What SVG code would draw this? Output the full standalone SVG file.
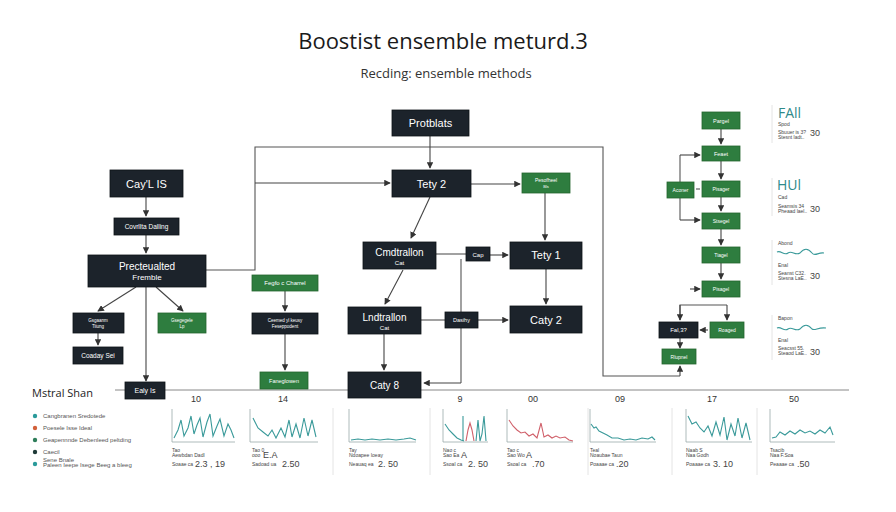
<svg xmlns="http://www.w3.org/2000/svg" width="896" height="512" viewBox="0 0 896 512">
<defs>
<marker id="ah" viewBox="0 0 8 8" refX="7" refY="4" markerWidth="6" markerHeight="6" orient="auto"><path d="M0,0 L8,4 L0,8 z" fill="#333"/></marker>
<style>
.dk{fill:#1c232b;stroke:#0e1317;stroke-width:0.8}
.gr{fill:#2e7d3f;stroke:#25652f;stroke-width:0.8}
.t{font-family:"Liberation Sans",Arial,sans-serif;fill:#fff;text-anchor:middle}
.ln{fill:none;stroke:#555;stroke-width:1.1}
.ar{fill:none;stroke:#444;stroke-width:1.1;marker-end:url(#ah)}
.ax{fill:none;stroke:#9aa;stroke-width:0.8}
.sep{stroke:#ddd;stroke-width:0.8}
.cs{fill:none;stroke:#3a9a9a;stroke-width:1.1}
.cr{fill:none;stroke:#d0606a;stroke-width:1.1}
.sm{font-family:"Liberation Sans",Arial,sans-serif;fill:#444;font-size:5px}
.nm{font-family:"Liberation Sans",Arial,sans-serif;fill:#444;font-size:9px}
.hd{font-family:"Liberation Sans",Arial,sans-serif;fill:#333;font-size:9px;text-anchor:middle}
.lg{font-family:"Liberation Sans",Arial,sans-serif;fill:#555;font-size:6px}
.pt{font-family:"Open Sans","Liberation Sans",sans-serif;fill:#2f8a8a}
</style>
</defs>
<rect width="896" height="512" fill="#ffffff"/>
<text x="443" y="49" font-family="Open Sans,Liberation Sans,sans-serif" font-size="22" fill="#1a1a1a" text-anchor="middle">Boostist ensemble meturd.3</text>
<text x="446" y="78" font-family="Open Sans,Liberation Sans,sans-serif" font-size="13" fill="#333" text-anchor="middle">Recding: ensemble methods</text>

<g id="timeline">
<line x1="115" y1="390" x2="849" y2="390" stroke="#888" stroke-width="1"/>
<text x="32" y="397" font-family="Open Sans,Liberation Sans,sans-serif" font-size="11" fill="#222">Mstral Shan</text>
<text class="hd" x="196" y="402">10</text>
<text class="hd" x="283" y="402">14</text>
<text class="hd" x="460" y="402">9</text>
<text class="hd" x="533" y="402">00</text>
<text class="hd" x="620" y="402">09</text>
<text class="hd" x="712" y="402">17</text>
<text class="hd" x="794" y="402">50</text>
<line x1="333" y1="408" x2="333" y2="475" class="sep"/>
<line x1="430" y1="408" x2="430" y2="475" class="sep"/>
<line x1="588" y1="408" x2="588" y2="475" class="sep"/>
<line x1="672" y1="408" x2="672" y2="475" class="sep"/>
<line x1="757" y1="408" x2="757" y2="475" class="sep"/>
</g>

<g id="connectors">
<path class="ar" d="M146,197 V216"/>
<path class="ar" d="M146,235 V253"/>
<path class="ar" d="M136,287 L98,311"/>
<path class="ar" d="M156,287 L183,311"/>
<path class="ar" d="M98,333 V345"/>
<path class="ar" d="M146,287 V381"/>
<path class="ln" d="M206,270 H255 V147 H603 V376 H680"/>
<path class="ar" d="M680,376 V366"/>
<path class="ar" d="M255,183 H390"/>
<path class="ar" d="M430,136 V168"/>
<path class="ar" d="M471,184 H520"/>
<path class="ar" d="M545,193 V240"/>
<path class="ar" d="M546,268 V304"/>
<path class="ar" d="M430,197 L411,238"/>
<path class="ar" d="M403,270 L385,304"/>
<path class="ar" d="M384,334 V370"/>
<path class="ln" d="M436,254 H466"/>
<path class="ar" d="M490,255 H508"/>
<path class="ln" d="M421,320 H445"/>
<path class="ar" d="M478,320 H508"/>
<path class="ln" d="M461,259 V383"/>
<path class="ar" d="M461,383 H424"/>
<path class="ar" d="M285,291 V311"/>
<path class="ar" d="M285,334 V370"/>
<path class="ar" d="M721,129 V144"/>
<path class="ar" d="M721,161 V179"/>
<path class="ar" d="M721,197 V211"/>
<path class="ar" d="M721,229 V245"/>
<path class="ar" d="M721,263 V279"/>
<path class="ln" d="M680,183 V155"/>
<path class="ar" d="M680,155 H700"/>
<path class="ln" d="M680,198 V220"/>
<path class="ar" d="M680,220 H700"/>
<path class="ln" d="M696,189 H700"/>
<path class="ar" d="M690,289 H700"/>
<path class="ln" d="M680,320 V305 H727"/>
<path class="ar" d="M680,305 V320"/>
<path class="ar" d="M727,305 V320"/>
<path class="ar" d="M708,330 H700"/>
<path class="ar" d="M680,338 V348"/>
</g>

<g id="n-cay"><rect class="dk" x="110" y="170" width="73" height="27"/><text class="t" x="146.5" y="188" font-size="11">Cay'L IS</text></g>
<g id="n-cov"><rect class="dk" x="114" y="218" width="65" height="17"/><text class="t" x="146.5" y="229" font-size="6.5">Covrllta Dalling</text></g>
<g id="n-prec"><rect class="dk" x="88" y="255" width="118" height="32"/><text class="t" x="147" y="270" font-size="10">Precteualted</text><text class="t" x="147" y="280" font-size="8">Fremble</text></g>
<g id="n-gsg"><rect class="dk" x="73" y="313" width="51" height="20"/><text class="t" x="98" y="322" font-size="4.5">Gsgaanm</text><text class="t" x="98" y="328" font-size="4.5">Tiiung</text></g>
<g id="n-gse"><rect class="gr" x="158" y="313" width="48" height="20"/><text class="t" x="182" y="322" font-size="4.5">Gsegegele</text><text class="t" x="182" y="328" font-size="4.5">Lp</text></g>
<g id="n-coa"><rect class="dk" x="73" y="347" width="50" height="17"/><text class="t" x="98" y="358" font-size="6.5">Coaday Sei</text></g>
<g id="n-ealy"><rect class="dk" x="125" y="382" width="40" height="17"/><text class="t" x="145" y="393" font-size="7">Ealy Is</text></g>

<g id="n-prot"><rect class="dk" x="392" y="110" width="77" height="26"/><text class="t" x="430.5" y="127" font-size="11">Protblats</text></g>
<g id="n-tety2"><rect class="dk" x="392" y="170" width="79" height="27"/><text class="t" x="431.5" y="188" font-size="11">Tety 2</text></g>
<g id="n-peso"><rect class="gr" x="522" y="173" width="48" height="20"/><text class="t" x="546" y="182" font-size="5">Pesofheel</text><text class="t" x="546" y="188" font-size="4">Bls</text></g>
<g id="n-tety1"><rect class="dk" x="510" y="242" width="72" height="27"/><text class="t" x="546" y="259" font-size="11">Tety 1</text></g>
<g id="n-caty2"><rect class="dk" x="510" y="306" width="72" height="27"/><text class="t" x="546" y="324" font-size="11">Caty 2</text></g>
<g id="n-cmd"><rect class="dk" x="363" y="242" width="73" height="27"/><text class="t" x="399.5" y="256" font-size="10">Cmdtrallon</text><text class="t" x="399.5" y="265" font-size="6">Cat</text></g>
<g id="n-cap"><rect class="dk" x="466" y="247" width="24" height="14"/><text class="t" x="478" y="257" font-size="6">Cap</text></g>
<g id="n-lnd"><rect class="dk" x="348" y="307" width="73" height="27"/><text class="t" x="384.5" y="321" font-size="10">Lndtrallon</text><text class="t" x="384.5" y="330" font-size="6">Cat</text></g>
<g id="n-das"><rect class="dk" x="445" y="312" width="33" height="16"/><text class="t" x="461.5" y="322" font-size="5.5">Dasihy</text></g>
<g id="n-caty8"><rect class="dk" x="348" y="372" width="73" height="26"/><text class="t" x="384.5" y="389" font-size="10">Caty 8</text></g>
<g id="n-feg"><rect class="gr" x="252" y="275" width="66" height="16"/><text class="t" x="285" y="285" font-size="6">Fegfo c Charrel</text></g>
<g id="n-cee"><rect class="dk" x="252" y="313" width="66" height="21"/><text class="t" x="285" y="322" font-size="4.5">Ceemed yl keusy</text><text class="t" x="285" y="328" font-size="4.5">Feseppodent</text></g>
<g id="n-fan"><rect class="gr" x="260" y="372" width="48" height="17"/><text class="t" x="284" y="383" font-size="5.5">Faneglowen</text></g>

<g id="n-pargel"><rect class="gr" x="702" y="112" width="38" height="17"/><text class="t" x="721" y="123" font-size="5.5">Pargel</text></g>
<g id="n-feaet"><rect class="gr" x="702" y="146" width="38" height="15"/><text class="t" x="721" y="156" font-size="5.5">Feaet</text></g>
<g id="n-aconer"><rect class="gr" x="667" y="182" width="27" height="16"/><text class="t" x="680.5" y="192" font-size="5">Aconer</text></g>
<g id="n-pisager"><rect class="gr" x="702" y="181" width="38" height="16"/><text class="t" x="721" y="191" font-size="5">Pisager</text></g>
<g id="n-stsegel"><rect class="gr" x="702" y="213" width="38" height="16"/><text class="t" x="721" y="223" font-size="5">Stsegel</text></g>
<g id="n-tiagel"><rect class="gr" x="702" y="247" width="38" height="16"/><text class="t" x="721" y="257" font-size="5">Tiagel</text></g>
<g id="n-pisagel"><rect class="gr" x="702" y="281" width="38" height="16"/><text class="t" x="721" y="291" font-size="5">Pisagel</text></g>
<g id="n-fal"><rect class="dk" x="659" y="322" width="39" height="16"/><text class="t" x="678.5" y="332" font-size="6">Fal,3?</text></g>
<g id="n-roaged"><rect class="gr" x="710" y="322" width="34" height="16"/><text class="t" x="727" y="332" font-size="5">Roaged</text></g>
<g id="n-rlupnel"><rect class="gr" x="662" y="349" width="34" height="15"/><text class="t" x="679" y="359" font-size="5">Rlupnel</text></g>

<g id="panel">
<line x1="772" y1="105" x2="772" y2="143" class="sep"/>
<text class="pt" x="778" y="118" font-size="14">FAll</text>
<text class="sm" x="778" y="126">Spod</text>
<text class="sm" x="778" y="134">Sbuuer is 3?</text><text class="nm" x="810" y="136" font-size="7">30</text>
<text class="sm" x="778" y="139">Stesnt ladt..</text>
<line x1="772" y1="178" x2="772" y2="216" class="sep"/>
<text class="pt" x="777" y="190" font-size="14">HUl</text>
<text class="sm" x="778" y="199">Cad</text>
<text class="sm" x="778" y="208">Seamsis 34</text><text class="nm" x="810" y="212" font-size="7">30</text>
<text class="sm" x="778" y="213">Pheaad lael..</text>
<line x1="772" y1="240" x2="772" y2="285" class="sep"/>
<text class="sm" x="778" y="245">Abond</text>
<path class="cs" d="M777,252 C781,250 784,256 788,253 C792,250 795,256 800,253 C804,248 808,248 812,253 C815,257 818,252 824,253" stroke-width="0.8"/>
<text class="sm" x="778" y="267">Enal</text>
<text class="sm" x="778" y="275">Seanst C32.</text><text class="nm" x="810" y="279" font-size="7">30</text>
<text class="sm" x="778" y="280">Stesna LaE..</text>
<line x1="772" y1="315" x2="772" y2="360" class="sep"/>
<text class="sm" x="778" y="320">Bapon</text>
<path class="cs" d="M777,328 C781,326 784,332 788,329 C792,326 795,332 800,329 C804,324 808,324 812,329 C815,331 818,327 826,328" stroke-width="0.8"/>
<text class="sm" x="778" y="342">Enal</text>
<text class="sm" x="778" y="350">Seacsst 55.</text><text class="nm" x="810" y="355" font-size="7">30</text>
<text class="sm" x="778" y="355">Steaod LaE..</text>
</g>

<g id="legend">
<circle cx="35" cy="416" r="2.2" fill="#2a9a9a"/><text class="lg" x="43" y="418">Cangbranen Sredotede</text>
<circle cx="35" cy="428" r="2.2" fill="#d2603a"/><text class="lg" x="43" y="430">Poesele Isse Ideal</text>
<circle cx="35" cy="440" r="2.2" fill="#2e7d5a"/><text class="lg" x="43" y="442">Geapennnde Debenleed peltding</text>
<circle cx="35" cy="452" r="2.2" fill="#1f3a38"/><text class="lg" x="43" y="454">Caecil</text>
<circle cx="35" cy="464" r="2.2" fill="#2a9a9a"/><text class="lg" x="43" y="462" font-size="5">Sene Bnale</text><text class="lg" x="43" y="467">Paleen Ieepe Isege Beeg a bleeg</text>
</g>

<g id="charts">
<path class="ax" d="M172,409 V442 H235"/>
<polyline class="cs" points="174,438 178,430 181,420 184,436 188,428 191,416 194,434 197,425 200,418 203,437 207,422 210,414 213,436 217,426 220,419 224,436 228,424 231,430 234,438"/>
<text class="sm" x="172" y="452">Tao</text><text class="sm" x="172" y="457">Aewbdan Dadl</text><text class="sm" x="172" y="466">Soaae ca</text><text class="nm" x="195" y="467">2.3 , 19</text>

<path class="ax" d="M250,409 V442 H318"/>
<polyline class="cs" points="253,418 258,428 263,432 268,436 272,430 276,438 281,428 285,437 289,420 292,437 296,424 300,438 304,418 308,436 312,420 316,437"/>
<text class="sm" x="252" y="452">Tao 0</text><text class="sm" x="252" y="457">ooo</text><text class="nm" x="263" y="458" font-size="8">E.A</text><text class="sm" x="252" y="466">Sadoad ua</text><text class="nm" x="282" y="467">2.50</text>

<path class="ax" d="M349,409 V442 H416"/>
<polyline class="cs" points="351,440 358,439 365,440 372,439 380,440 388,439 396,440 404,439 410,438 416,440"/>
<text class="sm" x="349" y="452">Tay</text><text class="sm" x="349" y="457">Ndoapee Ioeay</text><text class="sm" x="349" y="466">Neauaq ea</text><text class="nm" x="378" y="467">2. 50</text>

<path class="ax" d="M443,409 V442 H488"/>
<polyline class="cs" points="445,424 449,430 453,434 457,438 461,440 464,441"/>
<line x1="463" y1="441" x2="463" y2="416" class="cs"/>
<polyline class="cr" points="466,441 468,430 470,423 472,430 474,441"/>
<polyline class="cs" points="476,441 478,420 480,441 482,434 484,416 486,441"/>
<text class="sm" x="443" y="452">Nao c</text><text class="sm" x="443" y="457">Sao Ea</text><text class="nm" x="461" y="458" font-size="8">A</text><text class="sm" x="443" y="466">Ssoal ca</text><text class="nm" x="468" y="467">2. 50</text>

<path class="ax" d="M507,409 V442 H573"/>
<polyline class="cr" points="509,420 513,426 517,430 521,433 525,432 529,436 533,434 537,438 541,423 544,437 548,435 552,438 556,436 560,438 565,437 569,440 573,441"/>
<text class="sm" x="507" y="452">Tao c</text><text class="sm" x="507" y="457">Sao Wo</text><text class="nm" x="526" y="458" font-size="8">A</text><text class="sm" x="507" y="466">Ssoal ca</text><text class="nm" x="532" y="467">.70</text>

<path class="ax" d="M590,409 V442 H656"/>
<polyline class="cs" points="591,424 594,428 596,427 599,431 603,433 607,435 612,438 618,438 624,440 630,439 636,440 642,438 648,439 652,437 655,440"/>
<text class="sm" x="590" y="452">Teal</text><text class="sm" x="590" y="457">Noaubae Taun</text><text class="sm" x="590" y="466">Poaaae ca</text><text class="nm" x="616" y="467">.20</text>

<path class="ax" d="M686,409 V442 H752"/>
<polyline class="cs" points="688,416 692,424 696,422 700,428 704,432 708,426 712,436 716,422 720,435 724,417 727,440 731,424 735,436 738,418 742,438 746,423 750,440"/>
<text class="sm" x="686" y="452">Naab S</text><text class="sm" x="686" y="457">Naa Godh</text><text class="sm" x="686" y="466">Poaaae ca</text><text class="nm" x="713" y="467">3. 10</text>

<path class="ax" d="M770,409 V442 H835"/>
<polyline class="cs" points="772,438 776,437 780,432 785,435 790,431 795,434 800,430 805,433 810,431 815,434 820,430 825,433 830,427 833,435"/>
<text class="sm" x="770" y="452">Tsacib</text><text class="sm" x="770" y="457">Naa F.Soa</text><text class="sm" x="770" y="466">Peaaae ca</text><text class="nm" x="797" y="467">.50</text>
</g>
</svg>
